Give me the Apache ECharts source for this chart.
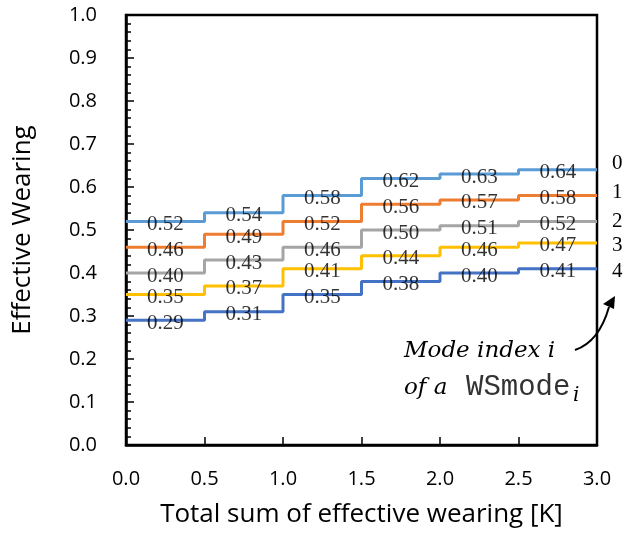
<!DOCTYPE html>
<html>
<head>
<meta charset="utf-8">
<script src="https://cdn.jsdelivr.net/npm/echarts@6/dist/echarts.min.js"></script>
<style>
  html, body { margin: 0; padding: 0; background: #fff; }
  #chart { width: 626px; height: 539px; }
</style>
</head>
<body>
<div id="chart"></div>
<script>
// Step boundaries on the x axis (K) and effective wearing per mode index
const stepStarts = [0.0, 0.5, 1.0, 1.5, 2.0, 2.5];
const xEnd = 3.0;
const modeNames = ['0', '1', '2', '3', '4'];
const mode0 = [0.52, 0.54, 0.58, 0.62, 0.63, 0.64];
const mode1 = [0.46, 0.49, 0.52, 0.56, 0.57, 0.58];
const mode2 = [0.40, 0.43, 0.46, 0.50, 0.51, 0.52];
const mode3 = [0.35, 0.37, 0.41, 0.44, 0.46, 0.47];
const mode4 = [0.29, 0.31, 0.35, 0.38, 0.40, 0.41];
const modes = [mode0, mode1, mode2, mode3, mode4];
const colors = ['#5B9BD5', '#ED7D31', '#A5A5A5', '#FFC000', '#4472C4'];
const endLabelOffsets = [[0, -6], [0, -3], [0, 0], [0, 3], [0, 3]];

const sansFont = '"Open Sans", sans-serif';
const serifFont = '"Liberation Serif", serif';
const italicFont = '"DejaVu Serif", serif';

const series = [];
modes.forEach((vals, i) => {
  // step line: each value holds until the next boundary
  const pts = stepStarts.map((x, k) => [x, vals[k]]);
  pts.push([xEnd, vals[vals.length - 1]]);
  series.push({
    type: 'line',
    name: modeNames[i],
    step: 'end',
    data: pts,
    symbol: 'none',
    lineStyle: { color: colors[i], width: 3 },
    itemStyle: { color: colors[i] },
    endLabel: {
      show: true,
      formatter: modeNames[i],
      distance: 15,
      offset: endLabelOffsets[i],
      fontFamily: serifFont,
      fontSize: 21,
      color: '#000'
    },
    z: 2
  });
  // value labels at the middle of each step
  const mids = stepStarts.map((x, k) => [x + 0.25, vals[k]]);
  series.push({
    type: 'scatter',
    data: mids,
    symbolSize: 1,
    itemStyle: { color: 'rgba(0,0,0,0)' },
    label: {
      show: true,
      position: 'inside',
      offset: [0, 3],
      formatter: p => p.value[1].toFixed(2),
      fontFamily: serifFont,
      fontSize: 21,
      color: '#000'
    },
    z: 5
  });
});

const chart = echarts.init(document.getElementById('chart'), null, { renderer: 'canvas' });
chart.setOption({
  animation: false,
  backgroundColor: '#fff',
  grid: {
    left: 126, right: 29, top: 15, bottom: 94,
    show: true, borderColor: '#000', borderWidth: 2.5, backgroundColor: 'transparent'
  },
  xAxis: {
    type: 'value',
    min: 0, max: 3, interval: 0.5,
    name: 'Total sum of effective wearing [K]',
    nameLocation: 'middle',
    nameGap: 57,
    nameTextStyle: { fontFamily: sansFont, fontSize: 26, color: '#000' },
    axisLine: { show: true, lineStyle: { color: '#000', width: 2.5 } },
    axisTick: { show: true, inside: true, length: 8, lineStyle: { color: '#000', width: 1.5 } },
    axisLabel: {
      formatter: v => v.toFixed(1),
      fontFamily: sansFont, fontSize: 20, color: '#000', margin: 24
    },
    splitLine: { show: false }
  },
  yAxis: {
    type: 'value',
    min: 0, max: 1, interval: 0.1,
    name: 'Effective Wearing',
    nameLocation: 'middle',
    nameGap: 90,
    nameTextStyle: { fontFamily: sansFont, fontSize: 26, color: '#000' },
    axisLine: { show: true, lineStyle: { color: '#000', width: 2.5 } },
    axisTick: { show: true, inside: true, length: 8, lineStyle: { color: '#000', width: 1.5 } },
    minorTick: { show: true, splitNumber: 5, length: 5, lineStyle: { color: '#000', width: 1.5 } },
    axisLabel: {
      formatter: v => v.toFixed(1),
      fontFamily: sansFont, fontSize: 20, color: '#000', margin: 29
    },
    splitLine: { show: false },
    minorSplitLine: { show: false }
  },
  series: series,
  graphic: [
    {
      type: 'text',
      left: 404, top: 340,
      style: {
        text: 'Mode index i',
        fontFamily: italicFont, fontStyle: 'italic', fontSize: 23, fill: '#000'
      }
    },
    {
      type: 'text',
      left: 404, top: 377,
      style: {
        text: 'of a',
        fontFamily: italicFont, fontStyle: 'italic', fontSize: 23, fill: '#000'
      }
    },
    {
      type: 'text',
      left: 466, top: 373,
      style: {
        text: 'WSmode',
        fontFamily: '"Liberation Mono", monospace', fontSize: 29, fill: '#333'
      }
    },
    {
      type: 'text',
      left: 573, top: 386,
      style: {
        text: 'i',
        fontFamily: italicFont, fontStyle: 'italic', fontSize: 20, fill: '#000'
      }
    },
    {
      type: 'bezierCurve',
      shape: { x1: 575, y1: 350, x2: 609, y2: 307, cpx1: 599, cpy1: 342 },
      style: { stroke: '#000', lineWidth: 2, fill: null }
    },
    {
      type: 'polygon',
      shape: { points: [[615, 296], [603, 304], [614, 309]] },
      style: { fill: '#000' }
    }
  ]
});
</script>
</body>
</html>
